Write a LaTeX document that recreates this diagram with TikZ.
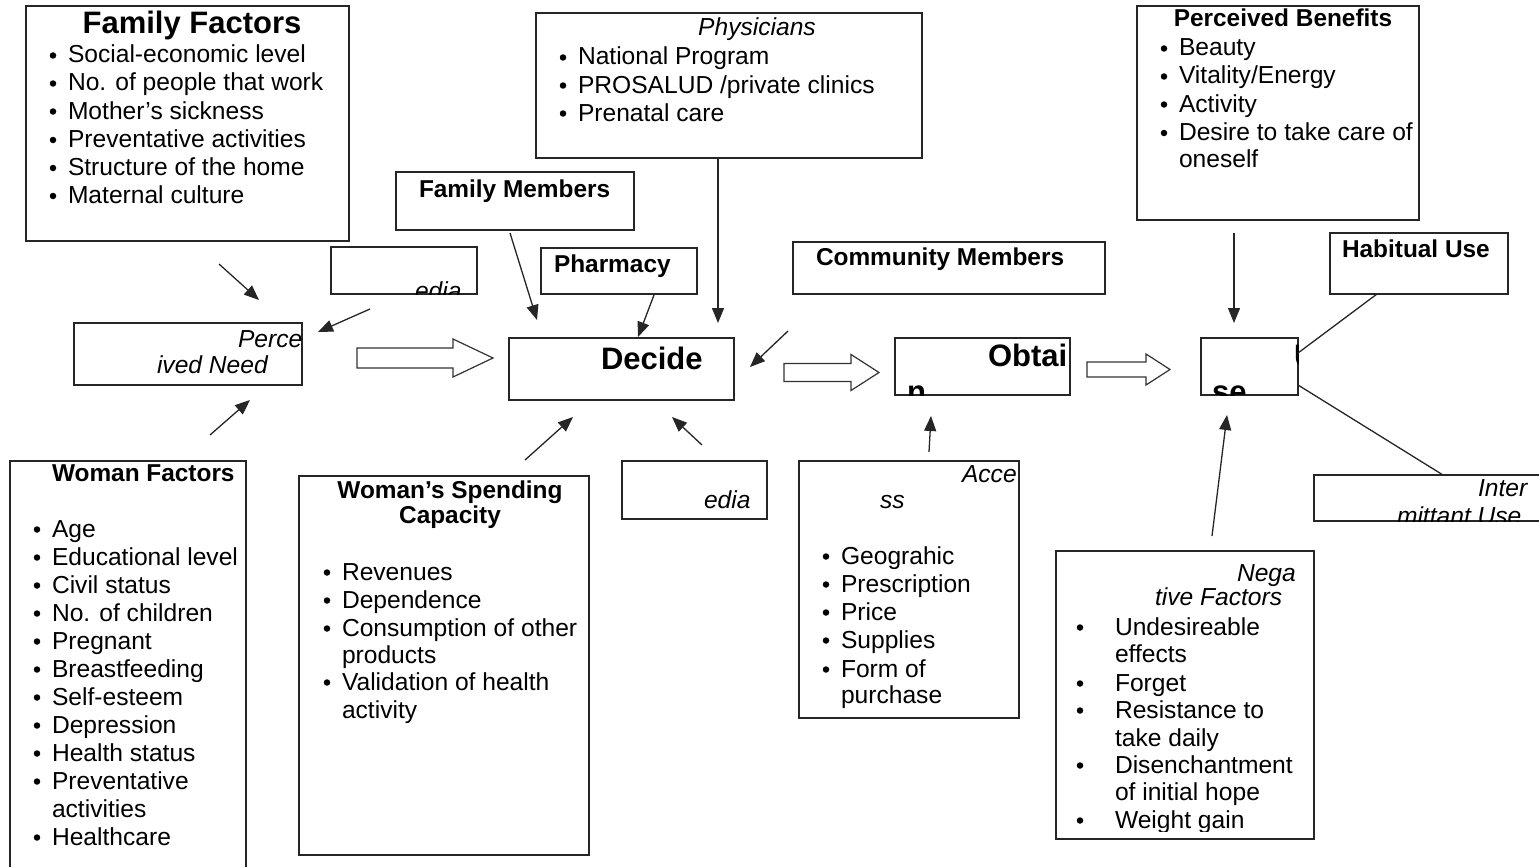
\documentclass[tikz,border=0pt]{standalone}
\usepackage{fontspec}
\setmainfont{Liberation Sans}
\usetikzlibrary{arrows.meta}
\tikzset{
  box/.style={draw=black!85, line width=1.3pt, inner sep=0, outer sep=0},
  txt/.style={anchor=base west, inner sep=0, outer sep=0, font=\fontsize{24.6}{28}\selectfont},
  itx/.style={txt, font=\fontsize{24.6}{28}\selectfont\itshape},
  btx/.style={txt, font=\fontsize{24.4}{28}\selectfont\bfseries},
  bigtx/.style={txt, font=\fontsize{31}{36}\selectfont\bfseries},
  bul/.style={circle, fill=black, inner sep=0, outer sep=0, minimum size=6.5pt},
  conn/.style={draw=black!85, line width=1.3pt, -{Triangle[length=15pt,width=12pt]}},
  plainline/.style={draw=black!85, line width=1.3pt},
  blockarrow/.style={draw=black!80, line width=1.2pt, fill=white, line join=miter},
}
% box with corners
\newcommand\mybox[5]{\node[box, minimum width={#4-#2}, minimum height={#5-#3}] (#1) at ({(#2+#4)/2},{(#3+#5)/2}) {};}
% bulleted item: name, bullet x, text x, baseline y, text
\newcommand\bitem[5]{\node[bul] (#1b) at (#2,#4-7.5) {}; \node[txt] (#1) at (#3,#4) {#5};}
% block arrow: tail x, head base x, tip x, centre y, shaft half, head half
\newcommand\blockarr[6]{\draw[blockarrow] (#1,#4-#5) -- (#2,#4-#5) -- (#2,#4-#6) -- (#3,#4) -- (#2,#4+#6) -- (#2,#4+#5) -- (#1,#4+#5) -- cycle;}
\begin{document}
\begin{tikzpicture}[x=1pt,y=-1pt]
\useasboundingbox (0,0) rectangle (1539,867);
\fill[white] (0,0) rectangle (1539,867);

% ---------- Family Factors
\mybox{ff}{26}{6}{349}{241}
\node[bigtx, anchor=base] (ffT) at (192,34) {Family Factors};
\bitem{ff1}{53}{68}{63}{Social-economic level}
\bitem{ff2}{53}{68}{91}{No. of people that work}
\bitem{ff3}{53}{68}{119}{Mother’s sickness}
\bitem{ff4}{53}{68}{147.5}{Preventative activities}
\bitem{ff5}{53}{68}{175.5}{Structure of the home}
\bitem{ff6}{53}{68}{203.5}{Maternal culture}

% ---------- Physicians
\mybox{ph}{536}{13}{922}{158}
\node[itx, anchor=base] (phT) at (757,36) {Physicians};
\bitem{ph1}{563}{578}{65}{National Program}
\bitem{ph2}{563}{578}{93}{PROSALUD /private clinics}
\bitem{ph3}{563}{578}{121}{Prenatal care}

% ---------- Perceived Benefits
\mybox{pb}{1137}{6}{1419}{220}
\node[btx, anchor=base] (pbT) at (1283,27) {Perceived Benefits};
\bitem{pb1}{1164}{1179}{56}{Beauty}
\bitem{pb2}{1164}{1179}{84}{Vitality/Energy}
\bitem{pb3}{1164}{1179}{112}{Activity}
\bitem{pb4}{1164}{1179}{140.5}{Desire to take care of}
\node[txt] (pb5) at (1179,167) {oneself};

% ---------- small label boxes
\mybox{fm}{396}{172}{634}{230}
\node[btx] (fmT) at (419,197) {Family Members};
\mybox{edA}{331}{247}{477}{294}
\begin{scope}
  \clip (edA.south west) rectangle (edA.north east);
  \node[itx] (edAT) at (415,299) {edia};
\end{scope}
\mybox{pha}{541}{248}{697}{294}
\node[btx] (phaT) at (554,272) {Pharmacy};
\mybox{cm}{793}{242}{1105}{294}
\node[btx] (cmT) at (816,265) {Community Members};
\mybox{hu}{1330}{233}{1508}{294}
\node[btx] (huT) at (1342,257) {Habitual Use};

% ---------- Perceived Need
\mybox{pn}{74}{323}{302}{385}
\begin{scope}
  \clip (pn.south west) rectangle (pn.north east);
  \node[itx] (pnT1) at (238,347) {Perce};
  \node[itx] (pnT2) at (157,373) {ived Need};
\end{scope}

% ---------- Decide / Obtain / Use
\mybox{de}{509}{338}{734}{400}
\node[bigtx] (deT) at (601,369) {Decide};
\mybox{ob}{895}{338}{1070}{395}
\begin{scope}
  \clip (ob.south west) rectangle (ob.north east);
  \node[bigtx] (obT1) at (988,366) {Obtai};
  \node[bigtx] (obT2) at (907,402) {n};
\end{scope}
\mybox{us}{1201}{338}{1298}{395}
\begin{scope}
  \clip (us.south west) rectangle (us.north east);
  \node[bigtx] (usT1) at (1294,366) {U};
  \node[bigtx] (usT2) at (1212,402) {se};
\end{scope}

% ---------- Intermittant Use
\mybox{iu}{1314}{475}{1560}{521}
\begin{scope}
  \clip (iu.south west) rectangle (iu.north east);
  \node[itx] (iuT1) at (1478,496) {Inter};
  \node[itx] (iuT2) at (1397,524) {mittant Use};
\end{scope}

% ---------- Woman Factors
\mybox{wf}{10}{461}{246}{890}
\node[btx] (wfT) at (52,481) {Woman Factors};
\bitem{wf1}{37}{52}{537}{Age}
\bitem{wf2}{37}{52}{565}{Educational level}
\bitem{wf3}{37}{52}{593}{Civil status}
\bitem{wf4}{37}{52}{621}{No. of children}
\bitem{wf5}{37}{52}{649}{Pregnant}
\bitem{wf6}{37}{52}{677}{Breastfeeding}
\bitem{wf7}{37}{52}{705}{Self-esteem}
\bitem{wf8}{37}{52}{733}{Depression}
\bitem{wf9}{37}{52}{761}{Health status}
\bitem{wf10}{37}{52}{789}{Preventative}
\node[txt] (wf11) at (52,817) {activities};
\bitem{wf12}{37}{52}{845}{Healthcare}

% ---------- Woman's Spending Capacity
\mybox{sc}{299}{476}{589}{855}
\node[btx, anchor=base] (scT1) at (450,498) {Woman’s Spending};
\node[btx, anchor=base] (scT2) at (450,523) {Capacity};
\bitem{sc1}{327}{342}{580}{Revenues}
\bitem{sc2}{327}{342}{608}{Dependence}
\bitem{sc3}{327}{342}{636}{Consumption of other}
\node[txt] (sc4) at (342,663) {products};
\bitem{sc5}{327}{342}{690}{Validation of health}
\node[txt] (sc6) at (342,718) {activity};

% ---------- edia (bottom)
\mybox{edB}{622}{461}{767}{519}
\node[itx] (edBT) at (704,508) {edia};

% ---------- Access
\mybox{ac}{799}{461}{1019}{718}
\begin{scope}
  \clip (ac.south west) rectangle (ac.north east);
  \node[itx] (acT1) at (962,482) {Acce};
\end{scope}
\node[itx] (acT2) at (880,508) {ss};
\bitem{ac1}{826}{841}{564}{Geograhic}
\bitem{ac2}{826}{841}{592}{Prescription}
\bitem{ac3}{826}{841}{620}{Price}
\bitem{ac4}{826}{841}{648}{Supplies}
\bitem{ac5}{826}{841}{677}{Form of}
\node[txt] (ac6) at (841,703) {purchase};

% ---------- Negative Factors
\mybox{nf}{1056}{551}{1314}{839}
\node[itx] (nfT1) at (1237,581) {Nega};
\node[itx] (nfT2) at (1155,605) {tive Factors};
\bitem{nf1}{1080}{1115}{635}{Undesireable}
\node[txt] (nf2) at (1115,662) {effects};
\bitem{nf3}{1080}{1115}{691}{Forget}
\bitem{nf4}{1080}{1115}{718}{Resistance to}
\node[txt] (nf5) at (1115,746) {take daily};
\bitem{nf6}{1080}{1115}{773}{Disenchantment}
\node[txt] (nf7) at (1115,800) {of initial hope};
\begin{scope}
  \clip (1056,551) rectangle (1314,831);
  \bitem{nf8}{1080}{1115}{828}{Weight gain}
\end{scope}

% ---------- block arrows
\blockarr{357}{453}{493}{358}{10}{19}
\blockarr{784}{851}{879}{372.5}{9}{18}
\blockarr{1087}{1146}{1170}{369.5}{7.5}{15.5}

% ---------- connector end points
\coordinate (a1s) at (219,264);  \coordinate (a1e) at (259,300);
\coordinate (a2s) at (370,309);  \coordinate (a2e) at (318,332);
\coordinate (a3s) at (210,435);  \coordinate (a3e) at (250,400);
\coordinate (a4s) at (510,233);  \coordinate (a4e) at (537,320);
\coordinate (a5s) at (654,295);  \coordinate (a5e) at (638,337);
\coordinate (a6e) at (718,323);
\coordinate (a7s) at (788,331);  \coordinate (a7e) at (750,367);
\coordinate (a8s) at (525,460);  \coordinate (a8e) at (573,417);
\coordinate (a9s) at (702,445);  \coordinate (a9e) at (672,417);
\coordinate (a10s) at (929,452); \coordinate (a10e) at (931,416);
\coordinate (a11s) at (1234,233);\coordinate (a11e) at (1234,323);
\coordinate (a12s) at (1212,536);\coordinate (a12e) at (1227,415);
\coordinate (l1s) at (1298,353); \coordinate (l1e) at (1377,294);
\coordinate (l2s) at (1298,385); \coordinate (l2e) at (1443,475);

% ---------- connectors
\draw[conn] (a1s) -- (a1e);
\draw[conn] (a2s) -- (a2e);
\draw[conn] (a3s) -- (a3e);
\draw[conn] (a4s) -- (a4e);
\draw[conn] (a5s) -- (a5e);
\draw[conn] (ph.south -| a6e) -- (a6e);
\draw[conn] (a7s) -- (a7e);
\draw[conn] (a8s) -- (a8e);
\draw[conn] (a9s) -- (a9e);
\draw[conn] (a10s) -- (a10e);
\draw[conn] (a11s) -- (a11e);
\draw[conn] (a12s) -- (a12e);
\draw[plainline] (l1s) -- (l1e);
\draw[plainline] (l2s) -- (l2e);
\end{tikzpicture}
\end{document}
